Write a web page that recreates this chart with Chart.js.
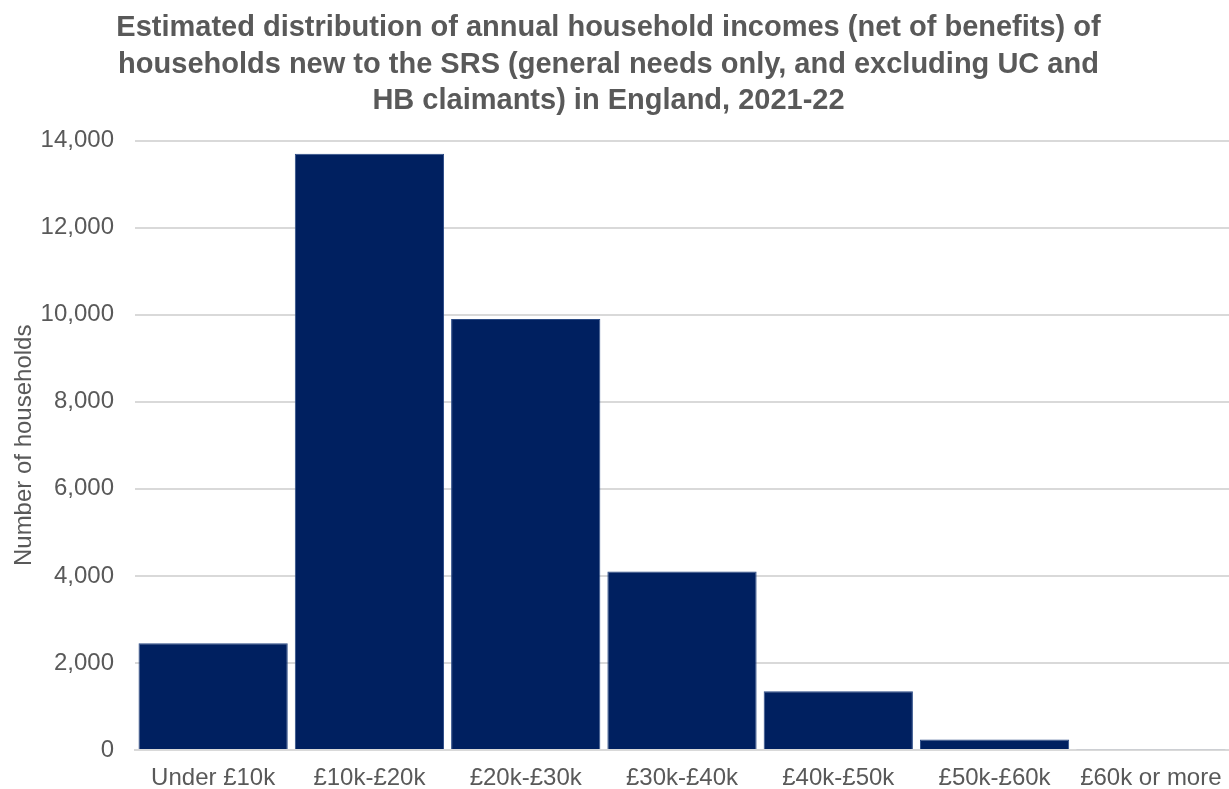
<!DOCTYPE html>
<html>
<head>
<meta charset="utf-8">
<script src="https://cdn.jsdelivr.net/npm/chart.js@4.4.0/dist/chart.umd.min.js"></script>
<style>
  html, body { margin: 0; padding: 0; background: #fff; }
  #wrap { width: 1229px; height: 789px; }
</style>
</head>
<body>
<div id="wrap"><canvas id="incomeChart"></canvas></div>
<script>
// income bands and household counts
const bands = ['Under £10k', '£10k-£20k', '£20k-£30k', '£30k-£40k', '£40k-£50k', '£50k-£60k', '£60k or more'];
const households = [2450, 13700, 9900, 4100, 1350, 240, 20];
const yTicks = [0, 2000, 4000, 6000, 8000, 10000, 12000, 14000];

const titleLines = [
  'Estimated distribution of annual household incomes (net of benefits) of',
  'households new to the SRS (general needs only, and excluding UC and',
  'HB claimants) in England, 2021-22'
];

const grey = '#595959';
Chart.defaults.font.family = 'Arial, "Liberation Sans", sans-serif';
Chart.defaults.color = grey;

// the original title sits a little left of the page centre
const nudgeTitle = {
  id: 'nudgeTitle',
  afterLayout(chart) {
    if (chart.titleBlock) chart.titleBlock.right -= 16;
  }
};

new Chart(document.getElementById('incomeChart'), {
  type: 'bar',
  data: {
    labels: bands,
    datasets: [{
      label: 'Number of households',
      data: households,
      backgroundColor: '#002060',
      borderColor: '#2a4a85',
      borderWidth: 1,
      barPercentage: 0.955,
      categoryPercentage: 1.0
    }]
  },
  options: {
    responsive: true,
    maintainAspectRatio: false,
    animation: false,
    layout: { padding: { left: 4, right: 0, top: 10, bottom: 0 } },
    plugins: {
      legend: { display: false },
      tooltip: { enabled: false },
      title: {
        display: true,
        text: titleLines,
        color: grey,
        font: { size: 29, weight: 'bold', lineHeight: 1.26 },
        padding: { top: 0, bottom: 21 }
      }
    },
    scales: {
      x: {
        grid: { display: false, drawTicks: false },
        border: { color: '#d9d9d9', width: 2 },
        ticks: { color: grey, font: { size: 24 }, maxRotation: 0, padding: 14 },
        afterFit: (axis) => {
          axis.height = 39;
          axis.paddingLeft = 0;
          axis.paddingRight = 0;
        }
      },
      y: {
        min: 0,
        max: 14000,
        afterBuildTicks: (axis) => { axis.ticks = yTicks.map(v => ({ value: v })); },
        afterFit: (axis) => { axis.width = 131; },
        grid: { color: '#d9d9d9', lineWidth: 2, drawTicks: false },
        border: { display: false },
        ticks: {
          color: grey,
          font: { size: 24 },
          padding: 21,
          callback: (val) => val.toLocaleString('en-GB')
        },
        title: {
          display: true,
          text: 'Number of households',
          color: grey,
          font: { size: 24 },
          padding: { top: 6, bottom: 2 }
        }
      }
    }
  },
  plugins: [nudgeTitle]
});
</script>
</body>
</html>
